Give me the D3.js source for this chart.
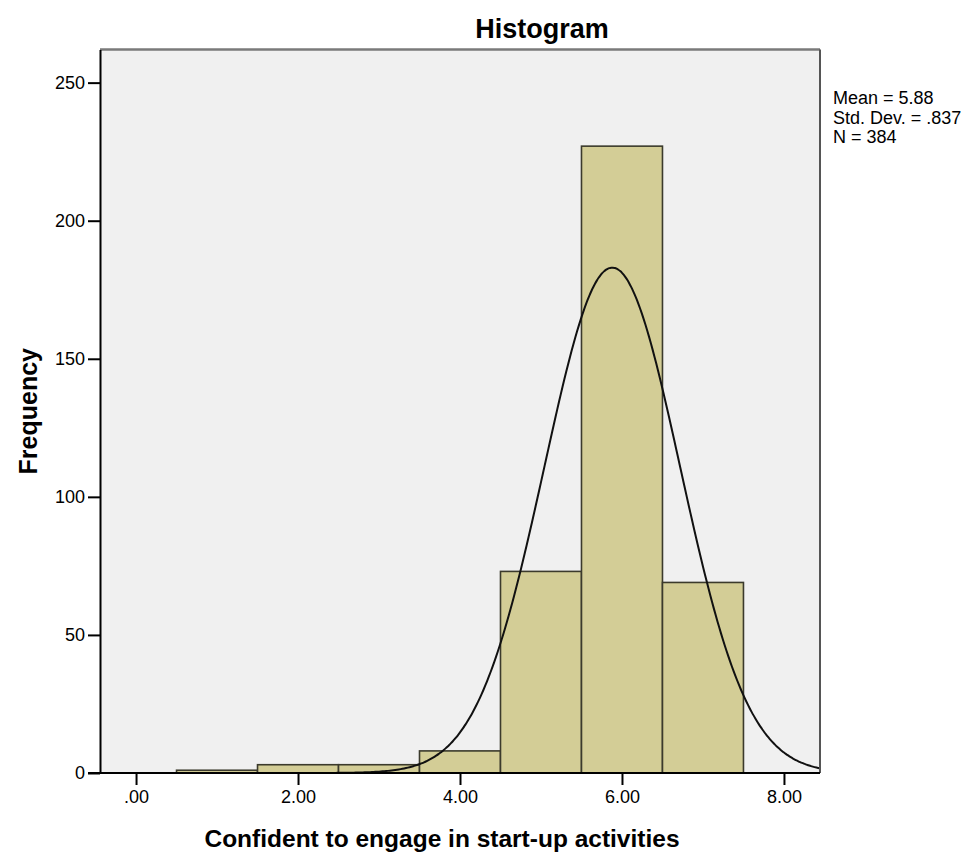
<!DOCTYPE html>
<html>
<head>
<meta charset="utf-8">
<script src="https://cdn.jsdelivr.net/npm/d3@7"></script>
<style>
  html, body { margin: 0; padding: 0; background: #ffffff; }
  svg { display: block; }
  text { font-family: "Liberation Sans", Arial, sans-serif; fill: #000; }
</style>
</head>
<body>
<svg id="chart" width="975" height="855"></svg>
<script>
// Histogram bins: lower edge, upper edge, frequency
const binStarts = [0.5, 1.5, 2.5, 3.5, 4.5, 5.5, 6.5];
const binEnds   = [1.5, 2.5, 3.5, 4.5, 5.5, 6.5, 7.5];
const counts    = [1, 3, 3, 8, 73, 227, 69];

// Summary statistics shown beside the plot
const statLabels = ["Mean = 5.88", "Std. Dev. = .837", "N = 384"];
const statMean = 5.88;
const statSD = 0.837;
const statN = 384;

// Axis ticks
const xTicks = [0, 2, 4, 6, 8];
const xTickLabels = [".00", "2.00", "4.00", "6.00", "8.00"];
const yTicks = [0, 50, 100, 150, 200, 250];

const svg = d3.select("#chart");

const plot = { left: 100, right: 820, top: 49.5, bottom: 773 };

const x = d3.scaleLinear().domain([-0.445, 8.445]).range([plot.left, plot.right]);
const y = d3.scaleLinear().domain([0, 262]).range([plot.bottom, plot.top]);

// Plot background
svg.append("rect")
  .attr("x", plot.left).attr("y", plot.top)
  .attr("width", plot.right - plot.left).attr("height", plot.bottom - plot.top)
  .attr("fill", "#f0f0f0");

// Bars
const bins = counts.map((c, i) => ({ x0: binStarts[i], x1: binEnds[i], n: c }));
svg.append("g").selectAll("rect").data(bins).join("rect")
  .attr("x", d => x(d.x0))
  .attr("y", d => y(d.n))
  .attr("width", d => x(d.x1) - x(d.x0))
  .attr("height", d => y(0) - y(d.n))
  .attr("fill", "#d3cd96")
  .attr("stroke", "#3b3a2c")
  .attr("stroke-width", 1.6);

// Fitted normal curve (frequency scale: N * bin width * density)
const binWidth = binEnds[0] - binStarts[0];
const density = v => statN * binWidth * Math.exp(-0.5 * ((v - statMean) / statSD) ** 2) / (statSD * Math.sqrt(2 * Math.PI));
const curveXs = d3.range(0, 401).map(i => x.domain()[0] + (x.domain()[1] - x.domain()[0]) * i / 400);
svg.append("path")
  .datum(curveXs)
  .attr("fill", "none")
  .attr("stroke", "#111")
  .attr("stroke-width", 2)
  .attr("d", d3.line().x(v => x(v)).y(v => y(density(v))).curve(d3.curveBasis));

// Frame: top and right borders
svg.append("line")
  .attr("x1", plot.left).attr("x2", plot.right)
  .attr("y1", plot.top).attr("y2", plot.top)
  .attr("stroke", "#7a7a7a").attr("stroke-width", 2.5);
svg.append("line")
  .attr("x1", plot.right).attr("x2", plot.right)
  .attr("y1", plot.top).attr("y2", plot.bottom)
  .attr("stroke", "#555").attr("stroke-width", 2);

// Y axis
const yAxis = d3.axisLeft(y).tickValues(yTicks).tickSize(12).tickSizeOuter(0).tickPadding(3).tickFormat(d3.format("d"));
const gy = svg.append("g").attr("transform", `translate(${plot.left},0)`).call(yAxis);
gy.select(".domain").attr("stroke", "#000").attr("stroke-width", 2);
gy.selectAll(".tick line").attr("stroke", "#000").attr("stroke-width", 2);
gy.selectAll(".tick text").attr("font-size", 18).attr("fill", "#222")
  .attr("font-family", "'Liberation Sans', Arial, sans-serif");

// X axis
const xAxis = d3.axisBottom(x).tickValues(xTicks).tickSize(12).tickSizeOuter(0).tickPadding(5)
  .tickFormat((d, i) => xTickLabels[i]);
const gx = svg.append("g").attr("transform", `translate(0,${plot.bottom})`).call(xAxis);
gx.select(".domain").remove();
gx.append("line").attr("x1", plot.left - 12).attr("x2", plot.right)
  .attr("stroke", "#000").attr("stroke-width", 2);
gx.selectAll(".tick line").attr("stroke", "#000").attr("stroke-width", 2);
gx.selectAll(".tick text").attr("font-size", 18).attr("fill", "#222")
  .attr("font-family", "'Liberation Sans', Arial, sans-serif");

// Title and axis labels
svg.append("text")
  .attr("x", 542).attr("y", 38)
  .attr("text-anchor", "middle")
  .attr("font-size", 27).attr("font-weight", "bold")
  .text("Histogram");

svg.append("text")
  .attr("x", 442).attr("y", 847)
  .attr("text-anchor", "middle")
  .attr("font-size", 24.5).attr("font-weight", "bold")
  .text("Confident to engage in start-up activities");

svg.append("text")
  .attr("transform", `translate(37,${(plot.top + plot.bottom) / 2}) rotate(-90)`)
  .attr("text-anchor", "middle")
  .attr("font-size", 25).attr("font-weight", "bold")
  .text("Frequency");

// Statistics block
svg.append("g").selectAll("text").data(statLabels).join("text")
  .attr("x", 833)
  .attr("y", (d, i) => 104 + i * 19.5)
  .attr("font-size", 18)
  .attr("fill", "#222")
  .text(d => d);
</script>
</body>
</html>
